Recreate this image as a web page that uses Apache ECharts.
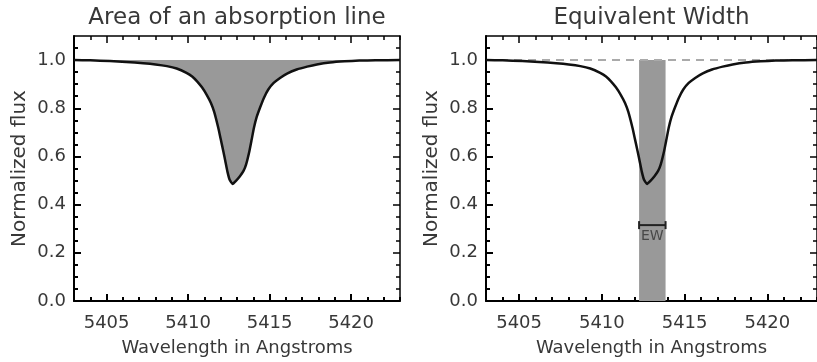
<!DOCTYPE html>
<html>
<head>
<meta charset="utf-8">
<script src="https://cdn.jsdelivr.net/npm/echarts@6/dist/echarts.min.js"></script>
<style>
html,body{margin:0;padding:0;background:#fff;}
#chart{width:817px;height:362px;}
</style>
</head>
<body>
<div id="chart"></div>
<script>
// ---- data ----
const wavelength = [5403.0, 5404.0, 5405.2, 5406.2, 5407.25, 5408.0, 5408.7, 5409.3, 5409.9, 5410.25,
  5410.55, 5410.85, 5411.15, 5411.4, 5411.6, 5411.85, 5412.0, 5412.16, 5412.3, 5412.42,
  5412.55, 5412.73, 5412.95, 5413.18, 5413.4, 5413.55, 5413.76, 5413.9, 5414.04, 5414.2,
  5414.41, 5414.65, 5414.92, 5415.25, 5415.64, 5416.1, 5416.66, 5417.3, 5417.9, 5418.7,
  5419.6, 5420.5, 5421.5, 5423.0];
const flux = [1.000, 0.999, 0.996, 0.992, 0.987, 0.982, 0.975, 0.965, 0.947, 0.932,
  0.912, 0.887, 0.855, 0.822, 0.785, 0.719, 0.672, 0.622, 0.575, 0.535,
  0.503, 0.486, 0.500, 0.518, 0.540, 0.565, 0.622, 0.670, 0.719, 0.762,
  0.802, 0.843, 0.878, 0.905, 0.926, 0.945, 0.961, 0.973, 0.982, 0.990,
  0.995, 0.998, 0.999, 1.000];
const continuumX = [5403, 5423];
const continuumY = [1.0, 1.0];
const ewRange = [5412.25, 5413.85];
const ewBracketY = 0.315;
const xMajorTicks = [5405, 5410, 5415, 5420];
const xMinorTicks = [5403, 5404, 5406, 5407, 5408, 5409, 5411, 5412, 5413, 5414, 5416, 5417, 5418, 5419, 5421, 5422, 5423];
const yMajorTicks = [0.0, 0.2, 0.4, 0.6, 0.8, 1.0];
const yMinorTicks = [0.05, 0.1, 0.15, 0.25, 0.3, 0.35, 0.45, 0.5, 0.55, 0.65, 0.7, 0.75, 0.85, 0.9, 0.95, 1.05];
const titles = ['Area of an absorption line', 'Equivalent Width'];
const xName = 'Wavelength in Angstroms';
const yName = 'Normalized flux';
const xRange = [5403, 5423];
const yRange = [0, 1.1];

// ---- styling helpers ----
const FONT = 'DejaVu Sans';
const TXT = '#383838';
const curve = wavelength.map((w, i) => [w, flux[i]]);
const continuum = continuumX.map((w, i) => [w, continuumY[i]]);

function xAxes(g, title) {
  const base = {type: 'value', gridIndex: g, min: xRange[0], max: xRange[1], splitLine: {show: false}};
  return [
    Object.assign({}, base, {
      position: 'bottom',
      axisLine: {show: true, onZero: false, lineStyle: {color: '#000', width: 2}},
      axisTick: {show: true, inside: true, length: 7, customValues: xMajorTicks, lineStyle: {color: '#000', width: 2}},
      axisLabel: {show: true, customValues: xMajorTicks, margin: 13, fontFamily: FONT, fontSize: 18, color: TXT,
        formatter: v => String(v)},
      name: xName, nameLocation: 'middle', nameGap: 38,
      nameTextStyle: {fontFamily: FONT, fontSize: 18, color: TXT}
    }),
    Object.assign({}, base, {
      position: 'bottom',
      axisLine: {show: false, onZero: false},
      axisTick: {show: true, inside: true, length: 4, customValues: xMinorTicks, lineStyle: {color: '#000', width: 2}},
      axisLabel: {show: false}
    }),
    Object.assign({}, base, {
      position: 'top',
      axisLine: {show: true, onZero: false, lineStyle: {color: '#000', width: 1.5}},
      axisTick: {show: true, inside: true, length: 7, customValues: xMajorTicks, lineStyle: {color: '#000', width: 1.5}},
      axisLabel: {show: false},
      name: title, nameLocation: 'middle', nameGap: 6,
      nameTextStyle: {fontFamily: FONT, fontSize: 23, color: TXT}
    }),
    Object.assign({}, base, {
      position: 'top',
      axisLine: {show: false, onZero: false},
      axisTick: {show: true, inside: true, length: 4, customValues: xMinorTicks, lineStyle: {color: '#000', width: 1.5}},
      axisLabel: {show: false}
    })
  ];
}
function yAxes(g) {
  const base = {type: 'value', gridIndex: g, min: yRange[0], max: yRange[1], splitLine: {show: false}};
  return [
    Object.assign({}, base, {
      position: 'left',
      axisLine: {show: true, onZero: false, lineStyle: {color: '#000', width: 2}},
      axisTick: {show: true, inside: true, length: 7, customValues: yMajorTicks, lineStyle: {color: '#000', width: 2}},
      axisLabel: {show: true, customValues: yMajorTicks, margin: 8, fontFamily: FONT, fontSize: 18, color: TXT,
        formatter: v => v.toFixed(1)},
      name: yName, nameLocation: 'middle', nameGap: 44,
      nameTextStyle: {fontFamily: FONT, fontSize: 20, color: TXT}
    }),
    Object.assign({}, base, {
      position: 'left',
      axisLine: {show: false, onZero: false},
      axisTick: {show: true, inside: true, length: 4, customValues: yMinorTicks, lineStyle: {color: '#000', width: 2}},
      axisLabel: {show: false}
    }),
    Object.assign({}, base, {
      position: 'right',
      axisLine: {show: true, onZero: false, lineStyle: {color: '#000', width: 1.5}},
      axisTick: {show: true, inside: true, length: 7, customValues: yMajorTicks, lineStyle: {color: '#000', width: 1.5}},
      axisLabel: {show: false}
    }),
    Object.assign({}, base, {
      position: 'right',
      axisLine: {show: false, onZero: false},
      axisTick: {show: true, inside: true, length: 4, customValues: yMinorTicks, lineStyle: {color: '#000', width: 1.5}},
      axisLabel: {show: false}
    })
  ];
}

const chart = echarts.init(document.getElementById('chart'), null, {renderer: 'canvas'});
chart.setOption({
  animation: false,
  backgroundColor: '#fff',
  grid: [
    {left: 74, top: 36, width: 326, height: 266},
    {left: 486, top: 36, width: 333, height: 266}
  ],
  xAxis: xAxes(0, titles[0]).concat(xAxes(1, titles[1])),
  yAxis: yAxes(0).concat(yAxes(1)),
  series: [
    {
      type: 'line', xAxisIndex: 0, yAxisIndex: 0, data: curve, smooth: 0.15,
      symbol: 'none', z: 3,
      lineStyle: {color: '#111', width: 2.5},
      areaStyle: {origin: 1, color: '#999999', opacity: 1}
    },
    {
      type: 'line', xAxisIndex: 4, yAxisIndex: 4, data: continuum, symbol: 'none', z: 1, silent: true,
      lineStyle: {color: '#aaaaaa', width: 2, type: [8, 6]}
    },
    {
      type: 'line', xAxisIndex: 4, yAxisIndex: 4, data: [], symbol: 'none', z: 2, silent: true,
      markArea: {
        silent: true,
        itemStyle: {color: '#999999', opacity: 1},
        data: [[{coord: [ewRange[0], 0]}, {coord: [ewRange[1], 1.0]}]]
      }
    },
    {
      type: 'line', xAxisIndex: 4, yAxisIndex: 4, data: curve, smooth: 0.15,
      symbol: 'none', z: 3,
      lineStyle: {color: '#111', width: 2.5}
    },
    {
      type: 'line', xAxisIndex: 4, yAxisIndex: 4, z: 4, silent: true,
      data: [[ewRange[0], ewBracketY], [ewRange[1], ewBracketY]],
      symbol: 'rect', symbolSize: [2, 8],
      itemStyle: {color: '#222'},
      lineStyle: {color: '#222', width: 2}
    },
    {
      type: 'scatter', xAxisIndex: 4, yAxisIndex: 4, z: 4, silent: true,
      data: [[(ewRange[0] + ewRange[1]) / 2, ewBracketY]],
      symbolSize: 0,
      label: {show: true, formatter: 'EW', position: 'bottom', distance: 4,
        fontFamily: FONT, fontSize: 14, color: '#333'}
    }
  ]
});
</script>
</body>
</html>
